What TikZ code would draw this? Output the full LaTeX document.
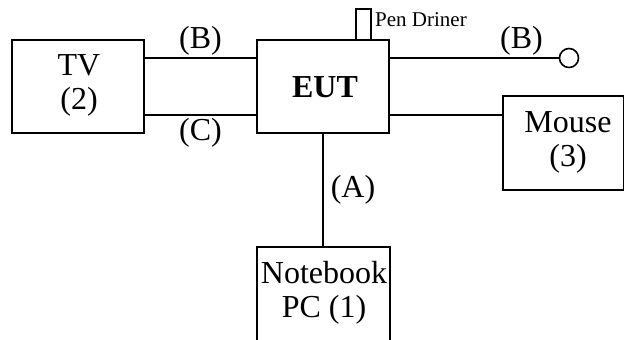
\documentclass[tikz,border=0pt]{standalone}
\usepackage{fontspec}
\setmainfont{Liberation Serif}
\begin{document}
\begin{tikzpicture}[x=1pt,y=-1pt,
  box/.style={draw,line width=1.6pt,inner sep=0pt,rectangle},
  wire/.style={line width=1.6pt},
  lbl/.style={inner sep=0pt,font=\fontsize{32}{35}\selectfont},
  small/.style={inner sep=0pt,font=\fontsize{21}{23}\selectfont}]
\useasboundingbox (0,0) rectangle (624,340);
\node[box,minimum width=132pt,minimum height=93pt] (tv) at (78,86.5) {};
\node[box,minimum width=132pt,minimum height=93pt] (eut) at (323,86.5) {};
\node[box,minimum width=15pt,minimum height=31pt] (pen) at (363.5,24.5) {};
\node[box,minimum width=121pt,minimum height=94pt] (mouse) at (563.5,143) {};
\node[box,minimum width=133pt,minimum height=110pt] (nb) at (323.5,302) {};
\node[draw,circle,line width=1.6pt,minimum size=19pt,inner sep=0pt] (term) at (569,58) {};
\coordinate (yB) at (0,58);
\coordinate (yC) at (0,115);
% texts
\node[lbl,anchor=base] at (79,75) {TV};
\node[lbl,anchor=base] at (79,109) {(2)};
\node[lbl,anchor=base,font=\fontsize{32}{35}\selectfont\bfseries] at (325,97) {EUT};
\node[lbl,anchor=base] at (568,132) {Mouse};
\node[lbl,anchor=base] at (568,166) {(3)};
\node[lbl,anchor=base] at (324,283) {Notebook};
\node[lbl,anchor=base] at (324,317) {PC (1)};
\node[small,anchor=base west] (pentext) at (375,27) {Pen Driner};
% connectors
\draw[wire] (tv.east |- yB) -- node[lbl,above=2pt] {(B)} (eut.west |- yB);
\draw[wire] (tv.east |- yC) -- node[lbl,below=2pt] {(C)} (eut.west |- yC);
\draw[wire] (eut.east |- yB) -- node[lbl,pos=0.78,above=2pt] {(B)} (term.west);
\draw[wire] (eut.east |- yC) -- (mouse.west |- yC);
\draw[wire] (eut.south) -- node[lbl,right=7pt] {(A)} (nb.north -| eut.south);
\end{tikzpicture}
\end{document}
